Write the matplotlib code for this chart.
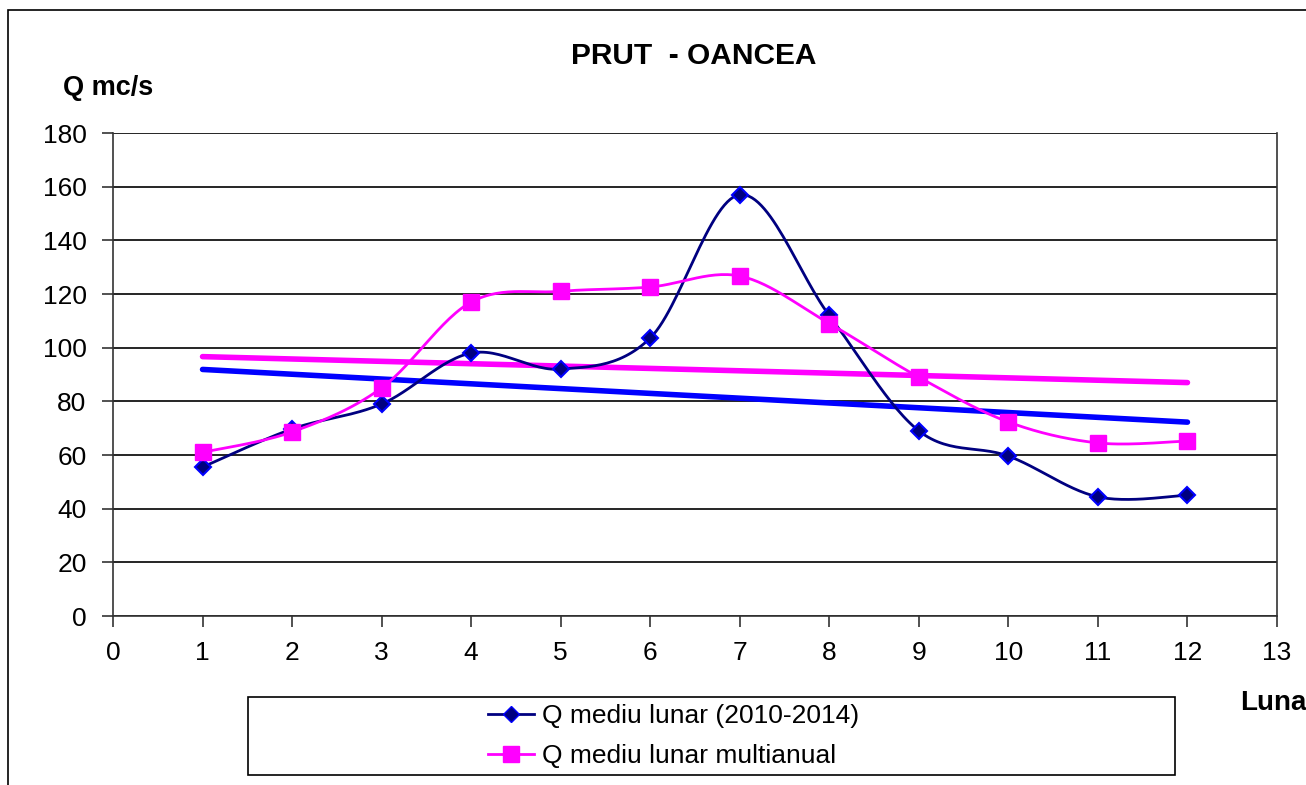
import numpy as np
import matplotlib.pyplot as plt
from matplotlib.patches import Rectangle

plt.rcParams['font.family'] = ['Liberation Sans', 'DejaVu Sans']

# --- date ---
luna = [1, 2, 3, 4, 5, 6, 7, 8, 9, 10, 11, 12]
q_2010_2014 = [55.5, 69.7, 79, 98, 92, 103.6, 157, 112, 69, 59.6, 44.4, 45]
q_multianual = [61, 68.6, 85, 117, 121, 122.6, 126.7, 109, 89, 72.3, 64.5, 65.2]
label_1 = "Q mediu lunar (2010-2014)"
label_2 = "Q mediu lunar multianual"
titlu = "PRUT  - OANCEA"


# curba netezita ca in Excel (Catmull-Rom / Bezier)
def smooth(x, y, n=30):
    x = np.asarray(x, float)
    y = np.asarray(y, float)
    px = np.concatenate([[x[0]], x, [x[-1]]])
    py = np.concatenate([[y[0]], y, [y[-1]]])
    xs, ys = [], []
    t = np.linspace(0, 1, n)
    for i in range(1, len(px) - 2):
        p0 = np.array([px[i], py[i]])
        p3 = np.array([px[i + 1], py[i + 1]])
        p1 = p0 + (np.array([px[i + 1], py[i + 1]]) - np.array([px[i - 1], py[i - 1]])) / 6
        p2 = p3 - (np.array([px[i + 2], py[i + 2]]) - np.array([px[i], py[i]])) / 6
        b = ((1 - t) ** 3)[:, None] * p0 + (3 * (1 - t) ** 2 * t)[:, None] * p1 \
            + (3 * (1 - t) * t ** 2)[:, None] * p2 + (t ** 3)[:, None] * p3
        xs.extend(b[:, 0])
        ys.extend(b[:, 1])
    return np.array(xs), np.array(ys)


fig = plt.figure(figsize=(13.06, 7.85), dpi=100)
fig.patches.append(Rectangle((8 / 1306, -0.01), 1.1, 1 - 10 / 785 + 0.01,
                             transform=fig.transFigure, fill=False,
                             edgecolor='black', linewidth=1.2))
ax = fig.add_axes([113 / 1306, 1 - 616 / 785, (1277 - 113) / 1306, (616 - 133) / 785])

# linii de tendinta
x = np.array(luna)
c1 = np.polyfit(x, q_2010_2014, 1)
c2 = np.polyfit(x, q_multianual, 1)
ax.plot(x, np.polyval(c2, x), color='#FF00FF', lw=4, solid_capstyle='round', zorder=3)
ax.plot(x, np.polyval(c1, x), color='#0000FF', lw=4, solid_capstyle='round', zorder=3)

sx, sy = smooth(luna, q_2010_2014)
ax.plot(sx, sy, color='#000080', lw=2, zorder=4)
ax.plot(luna, q_2010_2014, ls='none', marker='D', ms=8.5, mfc='#000080',
        mec='#0000FF', mew=1.5, zorder=5)
sx, sy = smooth(luna, q_multianual)
ax.plot(sx, sy, color='#FF00FF', lw=2, zorder=4)
ax.plot(luna, q_multianual, ls='none', marker='s', ms=11, mfc='#FF00FF',
        mec='#FF00FF', zorder=5)

ax.set_xlim(0, 13)
ax.set_ylim(0, 180)
ax.set_xticks(range(0, 14))
ax.set_yticks(range(0, 181, 20))
ax.tick_params(labelsize=19, direction='out', length=8, width=1.2, colors='#333333',
               labelcolor='black')
ax.tick_params(axis='x', pad=10)
ax.tick_params(axis='y', pad=11)
ax.grid(axis='y', color='black', lw=1.2)
ax.set_axisbelow(True)
ax.spines['top'].set_visible(False)
for s in ['left', 'right', 'bottom']:
    ax.spines[s].set_color('#333333')
    ax.spines[s].set_linewidth(1.2)

fig.text(694 / 1306, 1 - 56 / 785, titlu, ha='center', va='center',
         fontsize=21.5, fontweight='bold')
fig.text(63 / 1306, 1 - 88 / 785, "Q mc/s", ha='left', va='center',
         fontsize=19.5, fontweight='bold')
fig.text(1240 / 1306, 1 - 703 / 785, "Luna", ha='left', va='center',
         fontsize=20, fontweight='bold')

# legenda
h1 = plt.Line2D([], [], color='#000080', lw=2, marker='D', ms=8.5,
                mfc='#000080', mec='#0000FF')
h2 = plt.Line2D([], [], color='#FF00FF', lw=2, marker='s', ms=11,
                mfc='#FF00FF', mec='#FF00FF')
leg = fig.legend([h1, h2], [label_1, label_2], loc='center left',
                 bbox_to_anchor=(488 / 1306, 1 - 736 / 785), fontsize=19,
                 frameon=False, borderpad=0, borderaxespad=0,
                 handlelength=1.75, handletextpad=0.3, labelspacing=0.6)
fig.patches.append(Rectangle((248 / 1306, 1 - 775 / 785), (1175 - 248) / 1306,
                             (775 - 697) / 785, transform=fig.transFigure,
                             fill=False, edgecolor='black', linewidth=1.2))

fig.savefig('out.png', dpi=100)
